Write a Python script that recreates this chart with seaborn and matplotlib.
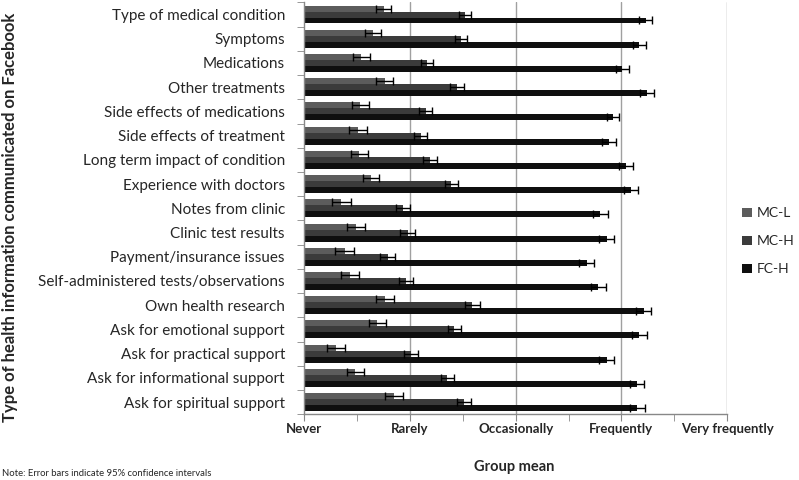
import pandas as pd
import numpy as np
import seaborn as sns
import matplotlib.pyplot as plt
from matplotlib.ticker import MultipleLocator

categories = [
    "Type of medical condition", "Symptoms", "Medications", "Other treatments",
    "Side effects of medications", "Side effects of treatment",
    "Long term impact of condition", "Experience with doctors",
    "Notes from clinic", "Clinic test results", "Payment/insurance issues",
    "Self-administered tests/observations", "Own health research",
    "Ask for emotional support", "Ask for practical support",
    "Ask for informational support", "Ask for spiritual support",
]
groups = ["MC-L", "MC-H", "FC-H"]

mc_l = [1.75, 1.65, 1.54, 1.76, 1.53, 1.51, 1.52, 1.63, 1.35, 1.49, 1.38,
        1.43, 1.76, 1.69, 1.30, 1.48, 1.85]
mc_h = [2.52, 2.48, 2.16, 2.44, 2.15, 2.10, 2.19, 2.39, 1.93, 1.98, 1.79,
        1.96, 2.59, 2.42, 2.01, 2.35, 2.51]
fc_h = [4.23, 4.17, 4.01, 4.24, 3.92, 3.88, 4.04, 4.09, 3.80, 3.86, 3.67,
        3.78, 4.21, 4.17, 3.86, 4.15, 4.15]

ci_l = [0.074, 0.072, 0.082, 0.079, 0.079, 0.085, 0.082, 0.080, 0.087, 0.087,
        0.088, 0.088, 0.085, 0.082, 0.082, 0.080, 0.085]
ci_h = [0.058, 0.057, 0.061, 0.066, 0.061, 0.063, 0.065, 0.063, 0.066, 0.071,
        0.071, 0.069, 0.068, 0.061, 0.065, 0.061, 0.063]
ci_f = [0.060, 0.065, 0.065, 0.065, 0.060, 0.068, 0.066, 0.066, 0.069, 0.072,
        0.072, 0.072, 0.072, 0.069, 0.071, 0.068, 0.069]

x_labels = ["Never", "Rarely", "Occasionally", "Frequently", "Very frequently"]

df = pd.DataFrame({
    "category": categories * 3,
    "group": np.repeat(groups, len(categories)),
    "mean": mc_l + mc_h + fc_h,
    "ci": ci_l + ci_h + ci_f,
})

sns.set_style("white")
plt.rcParams["font.family"] = ["Lato", "DejaVu Sans"]

fig = plt.figure(figsize=(7.99, 4.8), dpi=100)
ax = fig.add_axes([0.381, 0.137, 0.529, 0.858])

colors = ["#5c5c5c", "#3b3b3b", "#0f0f0f"]
sns.barplot(data=df, y="category", x="mean", hue="group", order=categories,
            hue_order=groups, palette=colors, width=0.74, errorbar=None,
            orient="h", ax=ax, saturation=1, linewidth=0)

# error bars at the bar ends
for patch, (_, row) in zip(ax.patches, df.iterrows()):
    yc = patch.get_y() + patch.get_height() / 2
    ax.errorbar(row["mean"], yc, xerr=row["ci"], fmt="none", ecolor="black",
                elinewidth=1.0, capsize=3, capthick=1.0)

ax.set_xlim(1, 5)
ax.set_ylim(len(categories) - 0.5, -0.5)
ax.set_xticks([1, 2, 3, 4, 5])
ax.set_xticklabels(x_labels, fontsize=9.5, fontweight="bold")
ax.xaxis.set_minor_locator(MultipleLocator(0.5))
ax.tick_params(axis="x", which="both", direction="out", length=5,
               color="#888888", bottom=True, pad=1)
for x in [2, 3, 4, 5]:
    ax.axvline(x, color="#a0a0a0", linewidth=1.0, zorder=0)

ax.set_yticks(np.arange(len(categories)))
ax.set_yticklabels(categories, fontsize=11)
ax.tick_params(axis="y", which="major", length=0, pad=14)
ax.set_yticks(np.arange(len(categories) + 1) - 0.5, minor=True)
ax.tick_params(axis="y", which="minor", direction="out", length=5,
               color="#888888", left=True)

for s in ["top", "right"]:
    ax.spines[s].set_visible(False)
for s in ["left", "bottom"]:
    ax.spines[s].set_color("#888888")
    ax.spines[s].set_linewidth(1.0)

ax.set_ylabel("")
ax.set_xlabel("")
fig.text(0.012, 0.547, "Type of health information communicated on Facebook",
         rotation=90, ha="center", va="center", fontsize=12,
         fontweight="bold")
fig.text(0.643, 0.018, "Group mean", ha="center", fontsize=10.5,
         fontweight="bold")
fig.text(0.002, 0.004, "Note: Error bars indicate 95% confidence intervals",
         fontsize=6.8, ha="left", va="bottom")

ax.legend(loc="center left", bbox_to_anchor=(1.012, 0.42), frameon=False,
          fontsize=10, handlelength=0.7, handleheight=0.7, handletextpad=0.35,
          labelspacing=1.15, borderaxespad=0.3)

fig.savefig("out.png", dpi=100)
